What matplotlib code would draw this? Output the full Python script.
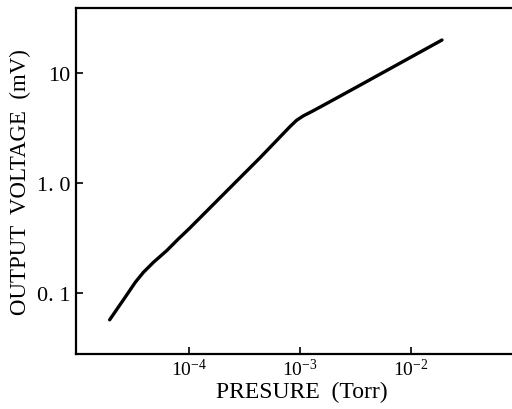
import numpy as np
import matplotlib.pyplot as plt
from matplotlib.ticker import FixedLocator, NullLocator

# gauge response, read as (pressure in Torr, output in mV)
pressure = [1.92e-5, 2.65e-5, 3.27e-5, 3.87e-5, 4.77e-5, 6.29e-5, 8.0e-5, 9.9e-5,
            2.76e-4, 4.37e-4, 6.6e-4, 8.13e-4, 9.33e-4, 1.07e-3, 1.32e-3, 1.74e-3,
            3.02e-3, 1.9e-2]
voltage = [0.057, 0.0914, 0.125, 0.154, 0.190, 0.243, 0.310, 0.38,
           1.07, 1.70, 2.62, 3.26, 3.72, 4.07, 4.54, 5.28,
           7.16, 19.9]

xticks = [1e-4, 1e-3, 1e-2]
xticklabels = [r"$10^{-4}$", r"$10^{-3}$", r"$10^{-2}$"]
yticks = [0.1, 1.0, 10]
yticklabels = ["0. 1", "1. 0", "10"]

plt.rcParams["font.family"] = ["Liberation Serif", "DejaVu Serif"]
plt.rcParams["mathtext.fontset"] = "custom"
plt.rcParams["mathtext.rm"] = "Liberation Serif"
plt.rcParams["mathtext.it"] = "Liberation Serif"

fig = plt.figure(figsize=(5.12, 4.10), dpi=100)
ax = fig.add_axes([76 / 512, 1 - 355 / 410, 1 - 76 / 512, (355 - 9) / 410])

ax.plot(pressure, voltage, color="black", lw=2.4, solid_capstyle="round",
        solid_joinstyle="round")

ax.set_xscale("log")
ax.set_yscale("log")
ax.set_xlim(10 ** -5.02, 10 ** -1.09)
ax.set_ylim(10 ** -1.555, 10 ** 1.59)

ax.xaxis.set_major_locator(FixedLocator(xticks))
ax.xaxis.set_minor_locator(NullLocator())
ax.yaxis.set_major_locator(FixedLocator(yticks))
ax.yaxis.set_minor_locator(NullLocator())
ax.set_xticklabels(xticklabels, fontsize=14)
ax.set_yticklabels(yticklabels, fontsize=16)

ax.tick_params(axis="x", direction="in", length=5, width=1.2, pad=3)
ax.tick_params(axis="y", direction="in", length=5, width=1.2, pad=4)

for side in ["left", "top", "bottom"]:
    ax.spines[side].set_linewidth(1.6)
ax.spines["right"].set_visible(False)

ax.set_xlabel("PRESURE  (Torr)", fontsize=17)
ax.xaxis.set_label_coords((302 - 76) / 436, -0.078)
ax.set_ylabel("OUTPUT  VOLTAGE  (mV)", fontsize=16.5, labelpad=4)

fig.savefig("out.png", dpi=100)
